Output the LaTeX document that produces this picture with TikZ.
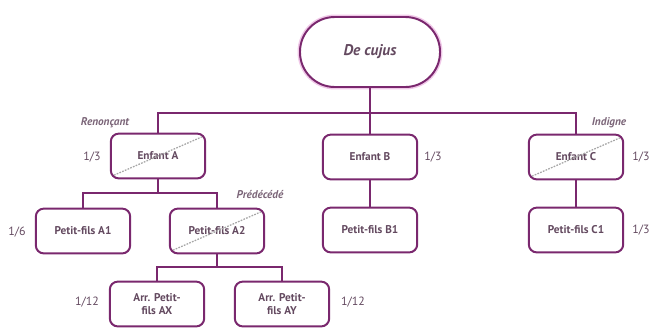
\documentclass[tikz,border=0pt]{standalone}
\usepackage{fontspec}
\setmainfont{PT Sans}
\usetikzlibrary{positioning}
\definecolor{plum}{RGB}{122,40,110}
\definecolor{plumtext}{RGB}{100,74,96}
\definecolor{plumglow}{RGB}{240,200,232}

\begin{document}
\begin{tikzpicture}[x=0.025cm,y=-0.025cm,
  person/.style={draw=plum,line width=1.4pt,rounded corners=0.2cm,fill=white,
    minimum width=2.36cm,minimum height=1.12cm,inner sep=1pt,align=center,
    text=plumtext,font=\fontsize{8}{9.5}\selectfont\bfseries},
  decujus/.style={draw=plum,line width=1.4pt,rounded corners=0.87cm,fill=white,
    minimum width=3.5cm,minimum height=1.75cm,text=plumtext,
    font=\fontsize{11}{13}\selectfont\bfseries\itshape,
    preaction={draw=plumglow,line width=3.5pt}},
  share/.style={text=plumtext,font=\fontsize{8.5}{10}\selectfont},
  status/.style={text=plumtext!85,font=\fontsize{8}{10}\selectfont\bfseries\itshape},
  branch/.style={draw=plum,line width=2pt},
  strike/.style={draw=gray!70,line width=0.9pt,dash pattern=on 1.2pt off 0.9pt}]
\useasboundingbox (0,0) rectangle (649,330);

% generations
\node[decujus] (dc) at (370,52) {De cujus};
\node[person] (ea) at (158,156) {Enfant A};
\node[person] (eb) at (370,157) {Enfant B};
\node[person] (ec) at (576,157) {Enfant C};
\node[person] (pa1) at (83,231) {Petit-fils A1};
\node[person] (pa2) at (217,231) {Petit-fils A2};
\node[person] (pb1) at (370,230) {Petit-fils B1};
\node[person] (pc1) at (576,230) {Petit-fils C1};
\node[person] (ax) at (157,304) {Arr. Petit-\\fils AX};
\node[person] (ay) at (282,304) {Arr. Petit-\\fils AY};

% branches
\coordinate (busdc) at (370,113);
\coordinate (busa) at (158,193);
\coordinate (busa2) at (217,267);
\draw[branch] (dc.south) -- (eb.north);
\draw[branch] (ea.north) |- (busdc) -| (ec.north);
\draw[branch] (ea.south) -- (busa);
\draw[branch] (pa1.north) |- (busa) -| (pa2.north);
\draw[branch] (pa2.south) -- (busa2);
\draw[branch] (ax.north) |- (busa2) -| (ay.north);
\draw[branch] (eb.south) -- (pb1.north);
\draw[branch] (ec.south) -- (pc1.north);

% struck out heirs
\draw[strike] ([shift={(3pt,3pt)}]ea.south west) -- ([shift={(-3pt,-3pt)}]ea.north east);
\draw[strike] ([shift={(3pt,3pt)}]ec.south west) -- ([shift={(-3pt,-3pt)}]ec.north east);
\draw[strike] ([shift={(3pt,3pt)}]pa2.south west) -- ([shift={(-3pt,-3pt)}]pa2.north east);

\node[status] (rena) at (105,123) {Renonçant};
\node[status] (indc) at (609,123) {Indigne};
\node[status] (prda2) at (260,195) {Prédécédé};

% shares
\node[share] (sa) at (92,157) {1/3};
\node[share] (sb) at (433,157) {1/3};
\node[share] (sc) at (641,157) {1/3};
\node[share] (sa1) at (17,232) {1/6};
\node[share] (sc1) at (641,230) {1/3};
\node[share] (sax) at (87,302) {1/12};
\node[share] (say) at (353,302) {1/12};
\end{tikzpicture}
\end{document}
